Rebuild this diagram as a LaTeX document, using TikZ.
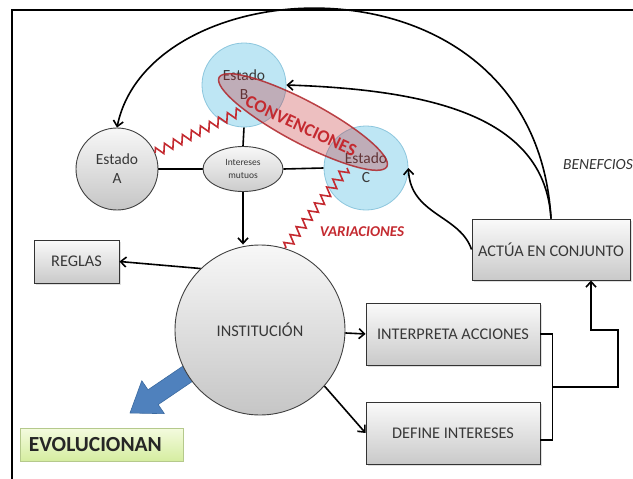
\documentclass[tikz,border=0pt]{standalone}
\usepackage{fontspec}
\setmainfont{Carlito}
\usetikzlibrary{arrows.meta,shapes.geometric,decorations.pathmorphing,calc,backgrounds,shadows}

\definecolor{txt}{HTML}{383838}
\definecolor{bluefill}{HTML}{BEE6F4}
\definecolor{blueedge}{HTML}{8CC6DD}
\definecolor{conv}{HTML}{C42A30}
\definecolor{bigarrow}{HTML}{4F81BD}
\definecolor{bigarrowedge}{HTML}{3B6AA0}
\definecolor{greentop}{HTML}{F4FBDF}
\definecolor{greenbot}{HTML}{D5EDA0}
\definecolor{greenedge}{HTML}{B5C98C}

\begin{document}
\begin{tikzpicture}[x=1pt,y=-1pt,
  lbl/.style={font=\fontsize{15.5}{19}\selectfont, text=txt},
  biglbl/.style={font=\fontsize{16.3}{19}\selectfont, text=txt},
  graycirc/.style={circle, draw=black!75, line width=0.9pt, top color=gray!6,
    bottom color=gray!45, lbl, align=center, inner sep=0pt},
  bluecirc/.style={circle, draw=blueedge, line width=0.8pt, fill=bluefill,
    lbl, align=center, inner sep=0pt, minimum size=84pt},
  box/.style={rectangle, draw=black!80, line width=0.9pt, top color=gray!4,
    bottom color=gray!42, biglbl, inner sep=0pt,
    drop shadow={opacity=0.25, shadow xshift=2pt, shadow yshift=-2pt}},
  conn/.style={line width=1.6pt, draw=black, -{Straight Barb[length=5.5pt,width=10pt]}},
  plain/.style={line width=1.6pt, draw=black},
  zz/.style={decorate, decoration={zigzag, segment length=10pt, amplitude=4.5pt},
    draw=conv, line width=1.6pt},
]
\useasboundingbox (0,0) rectangle (633,479);

% frame on the top and left edges
\draw[line width=1.6pt] (12,479) -- (12,10) -- (633,10);

% broad blue arrow leaving the institution
\fill[bigarrow, draw=bigarrowedge, line width=0.6pt, line join=round]
  (210.1,369.4) -- (158.2,404.6) -- (164.4,413.7) -- (130,413)
  -- (141.8,380.7) -- (148,389.8) -- (199.9,354.6) -- cycle;

% states
\node[graycirc, minimum size=82pt] (A) at (117,169) {Estado\\A};
\node[bluecirc] (B) at (244,85) {Estado\\B};
\node[bluecirc] (C) at (366,168) {Estado\\C};
\node[ellipse, draw=black!75, line width=0.9pt, top color=gray!6, bottom color=gray!40,
  minimum width=80pt, minimum height=45pt, inner sep=0pt, align=center,
  font=\fontsize{9.5}{12.5}\selectfont, text=txt] (M) at (243,169) {Intereses\\mutuos};

% institution and boxes
\node[graycirc, biglbl, minimum size=170pt] (I) at (260,330) {INSTITUCIÓN};
\node[box, minimum width=85pt, minimum height=43pt] (R) at (76.5,261.5) {REGLAS};
\node[box, minimum width=174pt, minimum height=62pt] (P) at (453,334) {INTERPRETA ACCIONES};
\node[box, minimum width=174pt, minimum height=62pt] (D) at (453,433) {DEFINE INTERESES};
\node[box, minimum width=158pt, minimum height=61pt] (J) at (551,249.5) {ACTÚA EN CONJUNTO};
\node[rectangle, draw=greenedge, line width=0.8pt, top color=greentop, bottom color=greenbot,
  minimum width=163pt, minimum height=33pt, inner sep=0pt, anchor=west,
  font=\fontsize{21.5}{24}\bfseries, text=black!85] (E) at (20,444.5)
  {\hspace*{4pt}EVOLUCIONAN\hspace*{17pt}};

% links around the shared interests
\begin{scope}[on background layer]
  \draw[plain] (A.east) -- (M.west);
  \draw[plain] (M.east) -- (C.west);
  \draw[plain] (B.south) -- (M.north);
\end{scope}
\draw[conn] (M.south) -- (M.south |- I.north);
\draw[conn] (I.134) -- (R.east);
\draw[conn] (I.-2) -- (P.west);
\draw[conn] (I.-41) -- (D.west);

% bracket joining both boxes towards joint action
\coordinate (jn) at (552,387);
\coordinate (up) at (591,330);
\draw[plain, line join=miter] (P.east) -- ++(12,0) |- ($(D.east)+(0,7)$);
\draw[conn, line join=miter] (jn) -- (618,387) -- (618,330) -- (up) -- (up |- J.south);

% benefits returning to the states
\draw[conn] (J.north) .. controls (535,-55) and (150,-35) .. (A.north);
\draw[conn] (J.north) .. controls (545,120) and (440,90) .. (B.east);
\draw[conn] (J.west) .. controls (460,215) and (410,215) .. (C.east);

% conventions across states B and C
\fill[conv, opacity=0.3, rotate around={-28:(303,122)}] (303,122) ellipse [x radius=95, y radius=21];
\draw[conv!90!black, opacity=0.85, line width=1.5pt, rotate around={-28:(303,122)}]
  (303,122) ellipse [x radius=95, y radius=21];
\node[rotate=-25, font=\fontsize{18}{20}\bfseries, text=conv] (K) at (301,126) {CONVENCIONES};

% variations
\coordinate (za) at (241,111);
\coordinate (zc) at (347,168);
\draw[zz] (A.23) -- (za);
\draw[zz] (zc) -- (I.73);

\node[font=\fontsize{15}{18}\bfseries\itshape, text=conv] (V) at (362,232) {VARIACIONES};
\node[font=\fontsize{15.5}{18}\itshape, text=black!80] (F) at (598,165) {BENEFCIOS};
\end{tikzpicture}
\end{document}
